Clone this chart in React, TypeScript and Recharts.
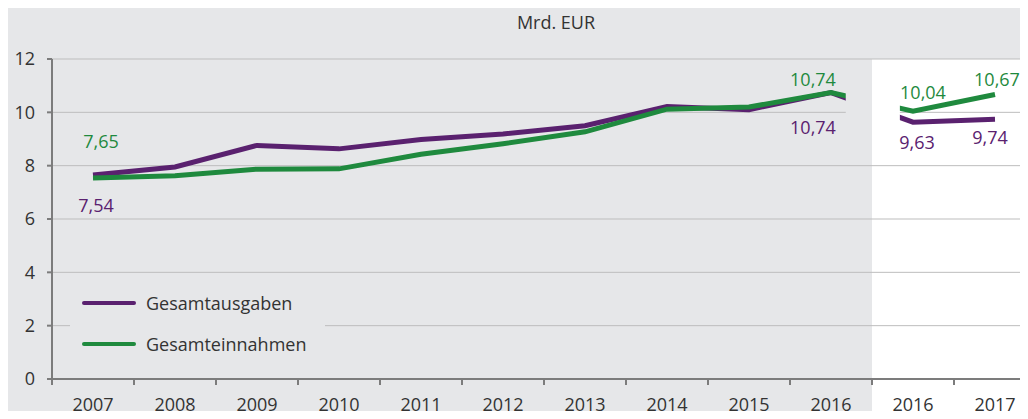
import React from 'react';
import {
  LineChart,
  Line,
  XAxis,
  YAxis,
  CartesianGrid,
  ReferenceArea,
  LabelList,
} from 'recharts';

const years = ['2007', '2008', '2009', '2010', '2011', '2012', '2013', '2014', '2015', '2016', '2016', '2017'];
const ausgaben = [7.65, 7.95, 8.76, 8.63, 8.98, 9.19, 9.5, 10.22, 10.1, 10.74, 9.63, 9.74];
const einnahmen = [7.54, 7.62, 7.87, 7.88, 8.43, 8.82, 9.27, 10.12, 10.2, 10.74, 10.04, 10.67];
const ausgabenLabels = ['7,54', '', '', '', '', '', '', '', '', '10,74', '9,63', '9,74'];
const einnahmenLabels = ['7,65', '', '', '', '', '', '', '', '', '10,74', '10,04', '10,67'];
const yTicks = [0, 2, 4, 6, 8, 10, 12];

const PURPLE = '#5a216f';
const GREEN = '#1f8a3e';
const BG = '#e6e7e9';
const TEXT = '#333333';
const AXIS = '#7c7c7c';
const FONT = '"Open Sans", sans-serif';

const PLOT_LEFT = 52;
const PLOT_TOP = 59;
const AXIS_H = 40;
const BAND = 82;
const CHART_W = PLOT_LEFT + BAND * years.length + 4;
const CHART_H = 419;
const PLOT_BOTTOM = CHART_H - AXIS_H;

// label nudges relative to the point (style only)
const labelOffsets: Record<string, Record<number, [number, number]>> = {
  ausgaben: { 0: [3, 30], 9: [-18, 34], 10: [4, 20], 11: [-5, 18] },
  einnahmen: { 0: [8, -37], 9: [-18, -14], 10: [10, -19], 11: [2, -15] },
};

const data = years.map((year, i) => ({
  i,
  year,
  ausgaben: ausgaben[i],
  einnahmen: einnahmen[i],
  ausgabenLabel: ausgabenLabels[i],
  einnahmenLabel: einnahmenLabels[i],
}));

const makeLabel = (series: string, color: string) => (props: any) => {
  const { x, y, value, index } = props;
  const off = labelOffsets[series][index];
  if (!value || !off) return null;
  return (
    <text
      x={x + off[0]}
      y={y + off[1]}
      textAnchor="middle"
      dominantBaseline="central"
      fill={color}
      fontSize={18}
      fontFamily={FONT}
    >
      {value}
    </text>
  );
};

const XTick = (props: any) => {
  const { x, payload } = props;
  return (
    <g>
      <line x1={x - BAND / 2} x2={x - BAND / 2} y1={PLOT_BOTTOM} y2={PLOT_BOTTOM + 6} stroke={AXIS} strokeWidth={2} />
      <text x={x} y={PLOT_BOTTOM + 25} textAnchor="middle" dominantBaseline="central" fill={TEXT} fontSize={18} fontFamily={FONT}>
        {years[payload.value]}
      </text>
    </g>
  );
};

const legendItems = [
  { name: 'Gesamtausgaben', color: PURPLE },
  { name: 'Gesamteinnahmen', color: GREEN },
];

export default function App() {
  return (
    <div style={{ margin: -8, width: 1028, height: 419, overflow: 'hidden', position: 'relative', background: BG, fontFamily: FONT }}>
      <div style={{ position: 'absolute', top: 9, left: 556, transform: 'translateX(-50%)', fontSize: 18, color: TEXT, lineHeight: '26px', whiteSpace: 'nowrap' }}>
        Mrd. EUR
      </div>
      <LineChart width={CHART_W} height={CHART_H} data={data} margin={{ top: PLOT_TOP, right: 4, left: 0, bottom: 0 }}>
        <ReferenceArea x1={9.5} x2={11.5} y1={-1.6} y2={12} fill="#ffffff" fillOpacity={1} stroke="none" ifOverflow="visible" zIndex={-200} />
        <CartesianGrid vertical={false} stroke="#bdbdbd" strokeWidth={1} />
        <XAxis
          dataKey="i"
          type="number"
          domain={[-0.5, 11.5]}
          ticks={years.map((_, i) => i)}
          interval={0}
          height={AXIS_H}
          axisLine={{ stroke: AXIS, strokeWidth: 2 }}
          tickLine={false}
          tick={<XTick />}
        />
        <YAxis
          domain={[0, 12]}
          ticks={yTicks}
          width={PLOT_LEFT}
          axisLine={{ stroke: AXIS, strokeWidth: 2 }}
          tickLine={{ stroke: AXIS, strokeWidth: 2 }}
          tickSize={5}
          tickMargin={12}
          tick={{ fill: TEXT, fontSize: 18, fontFamily: FONT }}
        />
        <Line dataKey="ausgaben" stroke={PURPLE} strokeWidth={5} dot={false} activeDot={false} isAnimationActive={false}>
          <LabelList dataKey="ausgabenLabel" content={makeLabel('ausgaben', PURPLE)} />
        </Line>
        <Line dataKey="einnahmen" stroke={GREEN} strokeWidth={5} dot={false} activeDot={false} isAnimationActive={false}>
          <LabelList dataKey="einnahmenLabel" content={makeLabel('einnahmen', GREEN)} />
        </Line>
        <ReferenceArea x1={9.18} x2={9.5} y1={9.4} y2={11} fill={BG} fillOpacity={1} stroke="none" zIndex={1500} />
        <ReferenceArea x1={9.5} x2={9.84} y1={9.4} y2={11} fill="#ffffff" fillOpacity={1} stroke="none" zIndex={1500} />
      </LineChart>
      <div style={{ position: 'absolute', left: 70, top: 282, width: 255, height: 82, background: BG }}>
        {legendItems.map((item, k) => (
          <div key={item.name} style={{ position: 'absolute', left: 12, top: 8 + k * 41, display: 'flex', alignItems: 'center', height: 26 }}>
            <span style={{ display: 'inline-block', width: 54, height: 4, borderRadius: 2, background: item.color, marginRight: 10 }} />
            <span style={{ fontSize: 18, color: TEXT, whiteSpace: 'nowrap' }}>{item.name}</span>
          </div>
        ))}
      </div>
    </div>
  );
}
